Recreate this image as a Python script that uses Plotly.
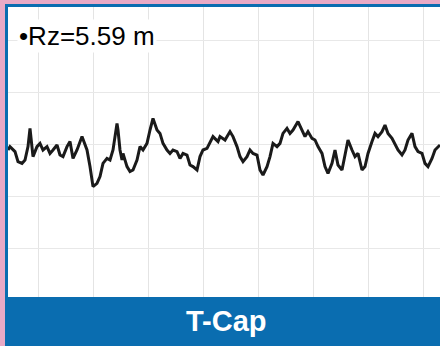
import plotly.graph_objects as go

# Profile position along trace (mm) and height (µm)
x_mm = [0.00, 0.02, 0.07, 0.10, 0.14, 0.17, 0.20, 0.22, 0.25, 0.29, 0.32, 0.35, 0.39, 0.42, 0.45,
        0.49, 0.52, 0.55, 0.59, 0.62, 0.65, 0.69, 0.74, 0.79, 0.82, 0.85, 0.89, 0.92, 0.95, 0.99,
        1.02, 1.05, 1.09, 1.10, 1.12, 1.14, 1.15, 1.19, 1.22, 1.25, 1.29, 1.32, 1.35, 1.39, 1.42,
        1.45, 1.49, 1.52, 1.55, 1.59, 1.62, 1.65, 1.69, 1.72, 1.75, 1.79, 1.82, 1.85, 1.89, 1.92,
        1.95, 1.99, 2.05, 2.10, 2.12, 2.17, 2.22, 2.25, 2.29, 2.32, 2.35, 2.39, 2.42, 2.45, 2.49,
        2.52, 2.55, 2.59, 2.62, 2.65, 2.69, 2.72, 2.75, 2.79, 2.82, 2.85, 2.90, 2.94, 2.97, 3.00,
        3.04, 3.07, 3.10, 3.14, 3.17, 3.20, 3.24, 3.27, 3.30, 3.34, 3.37, 3.40, 3.44, 3.47, 3.50,
        3.54, 3.57, 3.60, 3.64, 3.67, 3.70, 3.74, 3.77, 3.80, 3.84, 3.87, 3.90, 3.94, 3.97, 4.00,
        4.04, 4.07, 4.10, 4.14, 4.17, 4.20, 4.24, 4.27, 4.30, 4.32]
height_um = [0.00, 0.17, -0.08, -0.58, -0.67, -0.50, 0.17, 1.08, -0.33, 0.17, 0.33, 0.00, 0.17, -0.17, 0.00,
             0.25, -0.25, -0.33, 0.17, 0.42, -0.42, 0.00, 0.67, 0.00, -0.83, -1.83, -1.67, -1.33, -0.67, -0.42,
             -0.50, 0.00, 1.33, 1.00, 0.00, -0.50, -0.17, -0.83, -1.08, -1.00, -0.50, 0.17, 0.00, 0.33, 1.00,
             1.58, 1.00, 0.83, 0.33, 0.00, -0.17, 0.00, -0.08, -0.42, -0.17, -0.25, -0.75, -0.83, -1.00, -0.33,
             0.00, 0.08, 0.67, 0.42, 0.67, 0.50, 0.92, 0.67, 0.17, -0.33, -0.58, -0.33, 0.00, -0.17, -0.25,
             -1.00, -1.25, -0.83, -0.33, 0.33, 0.17, 0.33, 0.83, 1.08, 0.83, 1.00, 1.42, 1.00, 0.67, 0.92,
             0.58, 0.50, 0.17, -0.17, -0.83, -1.17, -0.67, 0.00, -0.75, -1.00, -0.17, 0.50, 0.00, -0.33, -0.17,
             -1.00, -0.83, -0.17, 0.42, 0.83, 0.67, 0.92, 1.25, 0.83, 0.58, 0.25, 0.00, -0.25, 0.00, 0.50,
             0.83, 0.17, -0.08, -0.17, -0.67, -0.83, -0.42, 0.00, 0.17, 0.25]

rz_label = "•Rz=5.59 m"
caption = "T-Cap"

W, H = 440, 346
PINK = "#e8aac6"
BLUE = "#0a6db0"

fig = go.Figure()
fig.add_trace(go.Scatter(x=x_mm, y=height_um, mode="lines",
                         line=dict(color="#1a1a1a", width=3),
                         hoverinfo="skip", showlegend=False))

def px(v):
    return v / W

def py(v):
    return 1 - v / H

fig.update_layout(
    width=W, height=H,
    margin=dict(l=0, r=0, t=0, b=0, pad=0),
    paper_bgcolor=PINK,
    plot_bgcolor="rgba(0,0,0,0)",
    xaxis=dict(domain=[px(8), 1], range=[0, 4.32], showticklabels=False, zeroline=False,
               showgrid=True, gridcolor="#e4e4e4", gridwidth=1, dtick=0.55, tick0=0.3),
    yaxis=dict(domain=[py(297), py(7)], range=[-7.35, 7.15], showticklabels=False, zeroline=False,
               showgrid=True, gridcolor="#e8e8e8", gridwidth=1, dtick=2.6, tick0=0.3),
    shapes=[
        dict(type="rect", xref="paper", yref="paper", layer="below",
             x0=px(5), x1=1, y0=0, y1=py(4), fillcolor=BLUE, line=dict(width=0)),
        dict(type="rect", xref="paper", yref="paper", layer="below",
             x0=px(8), x1=1, y0=py(297), y1=py(7), fillcolor="white", line=dict(width=0)),
    ],
    annotations=[
        dict(text=rz_label, xref="paper", yref="paper", x=px(17), y=py(36),
             xanchor="left", yanchor="middle", showarrow=False, bgcolor="white",
             font=dict(family="Arial, Liberation Sans, sans-serif", size=26, color="black")),
        dict(text="<b>" + caption + "</b>", xref="paper", yref="paper", x=px(226), y=py(321),
             xanchor="center", yanchor="middle", showarrow=False,
             font=dict(family="Arial, Liberation Sans, sans-serif", size=29, color="white")),
    ],
)

fig.write_html("out.html", config={"displayModeBar": False},
               post_script="document.body.style.margin='0';")
